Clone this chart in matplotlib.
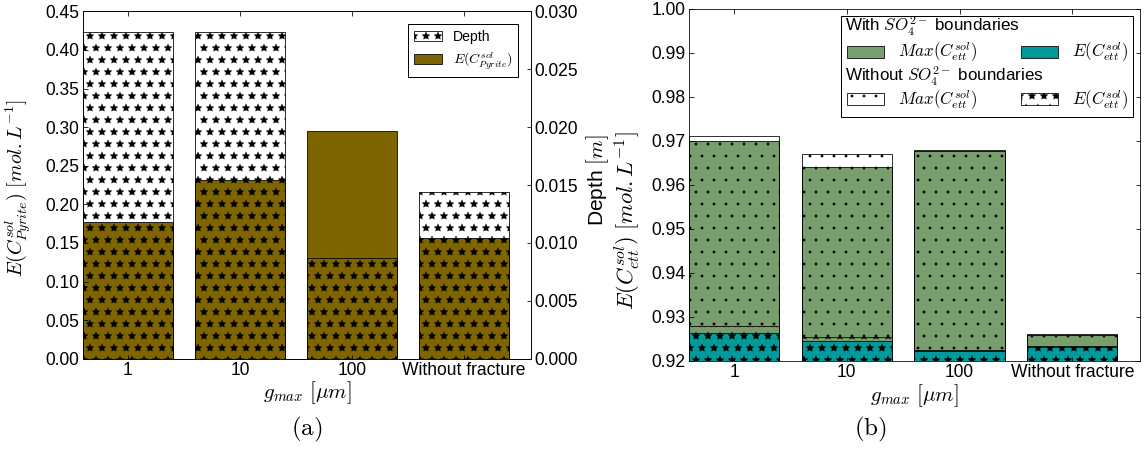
import numpy as np
import matplotlib
matplotlib.use("Agg")
import matplotlib.pyplot as plt
from matplotlib.patches import Rectangle
from matplotlib.ticker import FormatStrFormatter

# data
categories = ["1", "10", "100", "Without fracture"]

# (a) pyrite concentration and depth
e_pyrite = [0.177, 0.2315, 0.295, 0.156]
depth = [0.02824, 0.02824, 0.00867, 0.0144]

# (b) ettringite concentration, with / without SO4 boundaries
max_with = [0.9701, 0.9640, 0.9680, 0.9262]
e_with = [0.9263, 0.9246, 0.9222, 0.9232]
max_without = [0.9712, 0.9670, 0.9678, 0.9258]
e_without = [0.9280, 0.9255, 0.9224, 0.9235]

olive = "#7f6500"
green = "#789e6e"
teal = "#009a9a"

plt.rcParams["font.family"] = ["Liberation Sans", "DejaVu Sans"]
plt.rcParams["mathtext.fontset"] = "cm"
plt.rcParams["xtick.direction"] = "in"
plt.rcParams["ytick.direction"] = "in"
plt.rcParams["xtick.top"] = True
plt.rcParams["ytick.right"] = True
plt.rcParams["xtick.major.size"] = 4.5
plt.rcParams["ytick.major.size"] = 4.5
plt.rcParams["legend.fancybox"] = False
plt.rcParams["legend.edgecolor"] = "black"
plt.rcParams["legend.framealpha"] = 1
plt.rcParams["hatch.linewidth"] = 0.3

dpi = 72
fig = plt.figure(figsize=(1145 / dpi, 451 / dpi), dpi=dpi)

x = np.arange(len(categories))
w = 0.8
tick_fs = 17.5

# ---- (a)
ax = fig.add_axes([0.0725, 0.2047, 0.3913, 0.7700])
ax2 = ax.twinx()
b_e = ax.bar(x, e_pyrite, w, align="edge", color=olive, edgecolor="black", lw=0.8)
b_d = ax2.bar(x, depth, w, align="edge", facecolor="none", edgecolor="black", lw=0.8, hatch="*")
ax.set_xlim(0, 4)
ax.set_ylim(0, 0.45)
ax2.set_ylim(0, 0.030)
ax.set_yticks(np.arange(0, 0.451, 0.05))
ax2.set_yticks(np.arange(0, 0.0301, 0.005))
ax.yaxis.set_major_formatter(FormatStrFormatter("%.2f"))
ax2.yaxis.set_major_formatter(FormatStrFormatter("%.3f"))
ax.set_xticks(x + w / 2)
ax.set_xticklabels(categories)
ax.tick_params(right=False, labelsize=tick_fs)
ax2.tick_params(labelsize=tick_fs)
ax.set_xlabel(r"$g_{max}$ $[\mu m]$", fontsize=21)
ax.set_ylabel(r"$E(C^{sol}_{Pyrite})$ $[mol.L^{-1}]$", fontsize=20)
ax2.set_ylabel(r"Depth $[m]$", fontsize=21)
ax.yaxis.set_label_coords(-0.112, 0.49)
ax2.yaxis.set_label_coords(1.118, 0.513)
ax.xaxis.set_label_coords(0.5, -0.06)
ax2.legend([b_d, b_e], ["Depth", r"$E(C^{sol}_{Pyrite})$"], loc="upper right",
           fontsize=14, borderaxespad=0.9, handlelength=2.0)

# ---- (b)
bx = fig.add_axes([0.6017, 0.1996, 0.3939, 0.7805])
h1 = bx.bar(x, max_with, w, align="edge", color=green, edgecolor="black", lw=0.8)
h2 = bx.bar(x, e_with, w, align="edge", color=teal, edgecolor="black", lw=0.8)
h3 = bx.bar(x, max_without, w, align="edge", facecolor="none", edgecolor="black", lw=0.8, hatch=".")
h4 = bx.bar(x, e_without, w, align="edge", facecolor="none", edgecolor="black", lw=0.8, hatch="*")
bx.set_xlim(0, 4)
bx.set_ylim(0.92, 1.00)
bx.set_yticks(np.arange(0.92, 1.0001, 0.01))
bx.yaxis.set_major_formatter(FormatStrFormatter("%.2f"))
bx.set_xticks(x + w / 2)
bx.set_xticklabels(categories)
bx.tick_params(labelsize=tick_fs)
bx.set_xlabel(r"$g_{max}$ $[\mu m]$", fontsize=21)
bx.set_ylabel(r"$E(C^{sol}_{ett})$ $[mol.L^{-1}]$", fontsize=22.5)
bx.yaxis.set_label_coords(-0.105, 0.40)
bx.xaxis.set_label_coords(0.5, -0.06)

blank = Rectangle((0, 0), 1, 1, visible=False)
leg = bx.legend([blank, h1, blank, h3, blank, h2, blank, h4],
                [" ", r"$Max(C^{sol}_{ett})$", " ", r"$Max(C^{sol}_{ett})$",
                 " ", r"$E(C^{sol}_{ett})$", " ", r"$E(C^{sol}_{ett})$"],
                ncol=2, loc="upper right", fontsize=17, borderaxespad=0.4,
                handlelength=2.2, handletextpad=0.8, columnspacing=2.6,
                labelspacing=0.25, borderpad=0.3)
bx.text(0.346, 0.935, r"With $SO_4^{2-}$ boundaries", transform=bx.transAxes,
        fontsize=17, va="baseline", ha="left", zorder=10)
bx.text(0.346, 0.793, r"Without $SO_4^{2-}$ boundaries", transform=bx.transAxes,
        fontsize=17, va="baseline", ha="left", zorder=10)

# captions
fig.text(0.268, 0.047, r"$\mathrm{(a)}$", fontsize=25, ha="center", va="center")
fig.text(0.760, 0.047, r"$\mathrm{(b)}$", fontsize=25, ha="center", va="center")

fig.savefig("out.png", dpi=dpi)
